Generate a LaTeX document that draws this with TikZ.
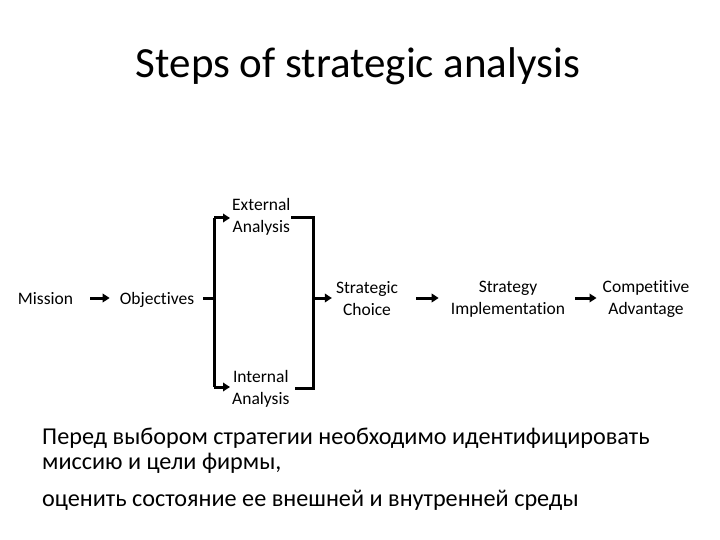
\documentclass[tikz,border=0pt]{standalone}
\usepackage{fontspec}
\setmainfont{Carlito}[Ligatures=NoCommon]
\usetikzlibrary{arrows.meta}
\begin{document}
\begin{tikzpicture}[x=1pt,y=-1pt,
  lbl/.style={inner sep=0pt,align=center,font=\fontsize{17.5}{22}\selectfont},
  ln/.style={line width=3pt},
  arr/.style={line width=3pt,-{Triangle[length=7pt,width=8.5pt]}},
  ru/.style={inner sep=0pt,anchor=base west,font=\fontsize{24.2}{26}\selectfont}]
\useasboundingbox (0,0) rectangle (720,540);
\node[inner sep=0pt,font=\fontsize{43}{50}\selectfont,anchor=base] (title) at (358,78) {Steps of strategic analysis};
\node[lbl,anchor=base] (mis) at (45.5,304) {Mission};
\node[lbl,anchor=base] (obj) at (157,304) {Objectives};
\node[lbl,anchor=west] (ext) at (232,217) {External\\Analysis};
\node[lbl,anchor=west] (int) at (232,389) {Internal\\Analysis};
\node[lbl] (sc) at (367,299) {Strategic\\Choice};
\node[lbl] (si) at (508,299) {Strategy\\Implementation};
\node[lbl] (ca) at (646,299) {Competitive\\Advantage};
\coordinate (j) at (214,298);
\coordinate (jt) at (214,218);
\coordinate (jb) at (214,387);
\coordinate (k) at (313,298);
\coordinate (kt) at (313,218);
\coordinate (kb) at (313,388);
\draw[arr,shorten <=17pt,shorten >=10pt] (mis.east |- j) -- (obj.west |- j);
\draw[ln,shorten <=9pt] (obj.east |- j) -- (j);
\draw[ln] (jt) -- (jb);
\draw[arr,shorten >=2pt] (jt) -- (jt -| ext.west);
\draw[arr,shorten >=2pt] (jb) -- (jb -| int.west);
\draw[ln,line cap=rect] (ext.east |- kt) ++(2,0) -- (kt) -- (kb) -- ++(-17,0);
\draw[arr,shorten >=4pt] (k) -- (sc.west |- k);
\draw[arr,shorten <=18pt,shorten >=12pt] (sc.east |- k) -- (si.west |- k);
\draw[arr,shorten <=10pt,shorten >=6pt] (si.east |- k) -- (ca.west |- k);
\node[ru] (r1) at (42,444) {Перед выбором стратегии необходимо идентифицировать};
\node[ru] (r2) at (42,469) {миссию и цели фирмы,};
\node[ru] (r3) at (42,506) {оценить состояние ее внешней и внутренней среды};
\end{tikzpicture}
\end{document}
